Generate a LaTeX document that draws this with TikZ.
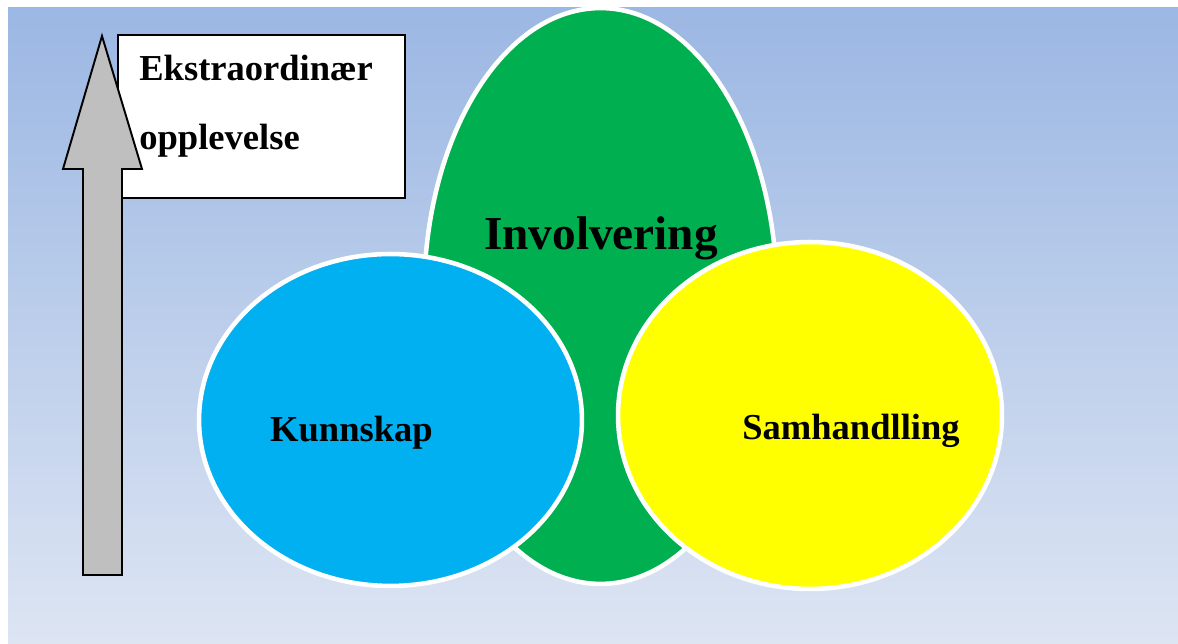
\documentclass[tikz,border=0pt]{standalone}
\usepackage{fontspec}
\setmainfont{Liberation Serif}
\usepackage{tikz}
\usetikzlibrary{shapes.geometric}

\definecolor{bgtop}{RGB}{155,183,227}
\definecolor{bgbottom}{RGB}{221,229,243}
\definecolor{invgreen}{RGB}{0,176,80}
\definecolor{kunblue}{RGB}{0,176,240}
\definecolor{samyellow}{RGB}{255,255,0}
\definecolor{arrowgray}{RGB}{191,191,191}

\begin{document}
\begin{tikzpicture}[x=0.02cm, y=-0.02cm,
    blob/.style={ellipse, draw=white, line width=2.6pt, inner sep=0pt},
    lbl/.style={font=\bfseries\fontsize{20.8}{24}\selectfont, anchor=base}]
    \useasboundingbox (0,0) rectangle (1178,644);
    \shade [top color=bgtop, bottom color=bgbottom] (8,8) rectangle (1178,644);
    % 	the three ellipses
        \node [blob, fill=invgreen, minimum width=7.06cm, minimum height=11.52cm] (involv) at (600.5,296) {};
        \node [blob, fill=kunblue, minimum width=7.66cm, minimum height=6.64cm] (kunn) at (390.5,420) {};
        \node [blob, fill=samyellow, minimum width=7.68cm, minimum height=6.94cm] (samh) at (810,415.5) {};
        \node [lbl, font=\bfseries\fontsize{26.9}{30}\selectfont] (involvtxt) at (601,250) {Involvering};
        \node [lbl] (kunntxt) at (351.5,442) {Kunnskap};
        \node [lbl] (samhtxt) at (851,440) {Samhandlling};
    % 	box and arrow
        \node [draw=black, fill=white, line width=1pt, minimum width=5.74cm, minimum height=3.26cm, inner sep=0pt] (boks) at (261.5,116.5) {};
        \node [anchor=base west, align=left, inner sep=0pt, font=\bfseries\fontsize{20.8}{39.8}\selectfont] (bokstxt) at (139,150) {Ekstraordinær\\opplevelse};
        \draw [fill=arrowgray, line width=1.1pt] (102,36) -- (142,169) -- (122,169) -- (122,575) -- (83,575) -- (83,169) -- (63,169) -- cycle;
    \end{tikzpicture}
\end{document}
